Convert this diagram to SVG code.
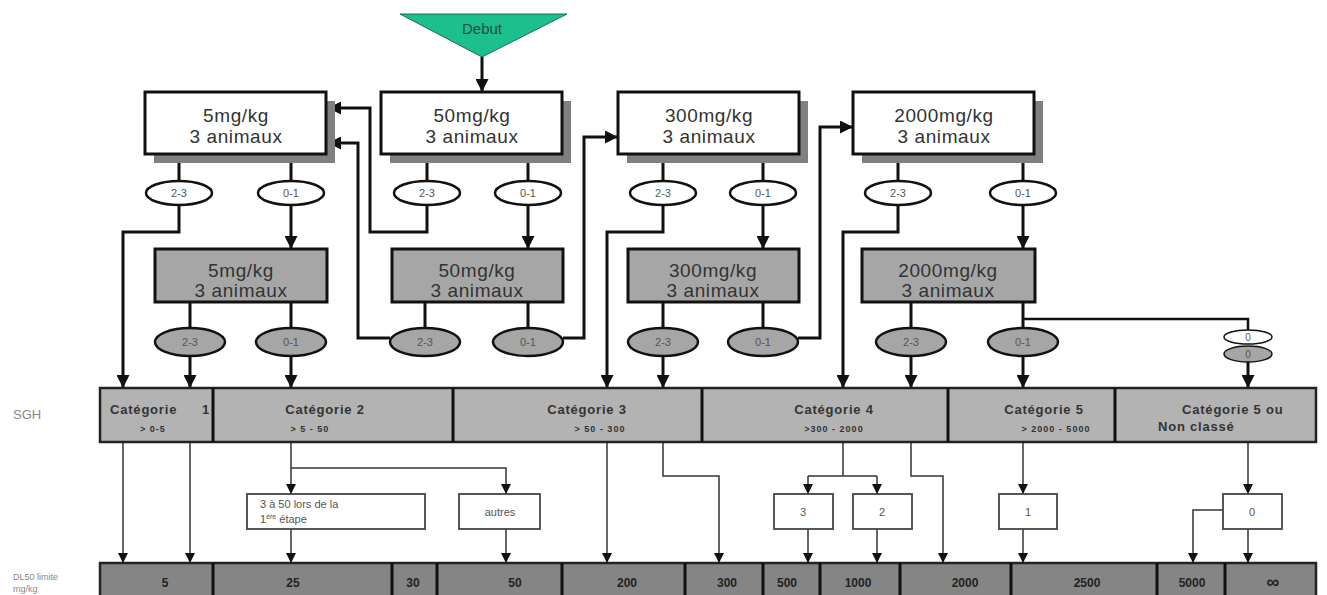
<svg xmlns="http://www.w3.org/2000/svg" width="1327" height="595" viewBox="0 0 1327 595">
<style>
.bg{fill:#ffffff}
.wbox{fill:#ffffff;stroke:#111;stroke-width:3}
.shadow{fill:#808080}
.gbox{fill:#a6a6a6;stroke:#111;stroke-width:3}
.wov{fill:#ffffff;stroke:#111;stroke-width:2.5}
.gov{fill:#a6a6a6;stroke:#111;stroke-width:2.5}
.big{font-family:"Liberation Sans",Arial,sans-serif;font-size:19px;fill:#333;text-anchor:middle;letter-spacing:0.6px}
.ov{font-family:"Liberation Sans",Arial,sans-serif;font-size:11px;fill:#555;text-anchor:middle}
.c{fill:none;stroke:#111;stroke-width:3}
.t{fill:none;stroke:#333;stroke-width:1.5}
.row{stroke:#222;stroke-width:2.5}
.div{stroke:#111;stroke-width:3}
.cat{font-family:"Liberation Sans",Arial,sans-serif;font-size:13px;font-weight:bold;fill:#333;letter-spacing:0.8px}
.sub{font-family:"Liberation Sans",Arial,sans-serif;font-size:9px;font-weight:bold;fill:#333;letter-spacing:1px}
.mbox{fill:#ffffff;stroke:#444;stroke-width:1.8}
.mt{font-family:"Liberation Sans",Arial,sans-serif;font-size:11px;fill:#555}
.val{font-family:"Liberation Sans",Arial,sans-serif;font-size:12px;font-weight:bold;fill:#222;text-anchor:middle}
.side{font-family:"Liberation Sans",Arial,sans-serif;fill:#888}
</style>
<defs>
<marker id="ah" viewBox="0 0 10 10" refX="10" refY="5" markerWidth="13" markerHeight="13" markerUnits="userSpaceOnUse" orient="auto"><path d="M0,0 L10,5 L0,10 z" fill="#111"/></marker>
<marker id="as" viewBox="0 0 10 10" refX="10" refY="5" markerWidth="10" markerHeight="10" markerUnits="userSpaceOnUse" orient="auto"><path d="M0,0 L10,5 L0,10 z" fill="#111"/></marker>
</defs>
<rect class="bg" x="0" y="0" width="1327" height="595"/>

<g id="debut">
<polygon points="400,14 567,14 482,57" fill="#1dbf8c" stroke="#1a6a55" stroke-width="1"/>
<text x="482" y="34" font-family="Liberation Sans, Arial, sans-serif" font-size="15" fill="#1d4f44" text-anchor="middle">Debut</text>
</g>

<g id="connectors">
<path class="c" d="M482,57 V92" marker-end="url(#ah)"/>
<path class="c" d="M179,154 V181 M291,154 V181 M427,154 V181 M528,154 V181 M663,154 V181 M763,154 V181 M898,154 V181 M1023,154 V181"/>
<path class="c" d="M291,206 V249" marker-end="url(#ah)"/>
<path class="c" d="M528,206 V249" marker-end="url(#ah)"/>
<path class="c" d="M763,206 V249" marker-end="url(#ah)"/>
<path class="c" d="M1023,206 V249" marker-end="url(#ah)"/>
<path class="c" d="M179,206 V232 H123 V388" marker-end="url(#ah)"/>
<path class="c" d="M427,206 V232 H370 V108 H328" marker-end="url(#ah)"/>
<path class="c" d="M663,206 V232 H607 V388" marker-end="url(#ah)"/>
<path class="c" d="M898,206 V232 H843 V388" marker-end="url(#ah)"/>
<path class="c" d="M190,302 V328 M291,302 V328 M425,302 V328 M528,302 V328 M663,302 V328 M763,302 V328 M911,302 V328 M1023,302 V328"/>
<path class="c" d="M190,356 V388" marker-end="url(#ah)"/>
<path class="c" d="M291,356 V388" marker-end="url(#ah)"/>
<path class="c" d="M390,338 H358 V143 H328" marker-end="url(#ah)"/>
<path class="c" d="M563,338 H584 V137 H618" marker-end="url(#ah)"/>
<path class="c" d="M663,356 V388" marker-end="url(#ah)"/>
<path class="c" d="M798,338 H820 V127 H853" marker-end="url(#ah)"/>
<path class="c" d="M911,356 V388" marker-end="url(#ah)"/>
<path class="c" d="M1023,356 V388" marker-end="url(#ah)"/>
<path class="c" d="M1023,319 H1248 V330" style="stroke-width:2.5"/>
<path class="c" d="M1248,362 V388" marker-end="url(#ah)"/>

<path class="t" d="M123,442 V563" marker-end="url(#as)"/>
<path class="t" d="M190,442 V563" marker-end="url(#as)"/>
<path class="t" d="M291,442 V494" marker-end="url(#as)"/>
<path class="t" d="M291,468 H506 V494" marker-end="url(#as)"/>
<path class="t" d="M291,529 V563" marker-end="url(#as)"/>
<path class="t" d="M506,529 V563" marker-end="url(#as)"/>
<path class="t" d="M607,442 V563" marker-end="url(#as)"/>
<path class="t" d="M663,442 V476 H719 V563" marker-end="url(#as)"/>
<path class="t" d="M843,442 V476 M808,476 H877"/>
<path class="t" d="M808,476 V494" marker-end="url(#as)"/>
<path class="t" d="M877,476 V494" marker-end="url(#as)"/>
<path class="t" d="M808,529 V563" marker-end="url(#as)"/>
<path class="t" d="M877,529 V563" marker-end="url(#as)"/>
<path class="t" d="M911,442 V476 H943 V563" marker-end="url(#as)"/>
<path class="t" d="M1023,442 V494" marker-end="url(#as)"/>
<path class="t" d="M1023,529 V563" marker-end="url(#as)"/>
<path class="t" d="M1248,442 V494" marker-end="url(#as)"/>
<path class="t" d="M1248,529 V563" marker-end="url(#as)"/>
<path class="t" d="M1223,510 H1193 V563" marker-end="url(#as)"/>
</g>

<g id="box-5-top">
<rect class="shadow" x="154" y="101" width="181" height="62"/>
<rect class="wbox" x="145" y="92" width="181" height="62"/>
<text class="big" x="236" y="122">5mg/kg</text>
<text class="big" x="236" y="143">3 animaux</text>
</g>
<g id="box-50-top">
<rect class="shadow" x="390" y="101" width="181" height="62"/>
<rect class="wbox" x="381" y="92" width="181" height="62"/>
<text class="big" x="472" y="122">50mg/kg</text>
<text class="big" x="472" y="143">3 animaux</text>
</g>
<g id="box-300-top">
<rect class="shadow" x="627" y="101" width="181" height="62"/>
<rect class="wbox" x="618" y="92" width="181" height="62"/>
<text class="big" x="709" y="122">300mg/kg</text>
<text class="big" x="709" y="143">3 animaux</text>
</g>
<g id="box-2000-top">
<rect class="shadow" x="862" y="101" width="181" height="62"/>
<rect class="wbox" x="853" y="92" width="181" height="62"/>
<text class="big" x="944" y="122">2000mg/kg</text>
<text class="big" x="944" y="143">3 animaux</text>
</g>

<g id="ov-top-5-23"><ellipse class="wov" cx="179" cy="193" rx="33" ry="12"/><text class="ov" x="179" y="197">2-3</text></g>
<g id="ov-top-5-01"><ellipse class="wov" cx="291" cy="193" rx="33" ry="12"/><text class="ov" x="291" y="197">0-1</text></g>
<g id="ov-top-50-23"><ellipse class="wov" cx="427" cy="193" rx="33" ry="12"/><text class="ov" x="427" y="197">2-3</text></g>
<g id="ov-top-50-01"><ellipse class="wov" cx="528" cy="193" rx="33" ry="12"/><text class="ov" x="528" y="197">0-1</text></g>
<g id="ov-top-300-23"><ellipse class="wov" cx="663" cy="193" rx="33" ry="12"/><text class="ov" x="663" y="197">2-3</text></g>
<g id="ov-top-300-01"><ellipse class="wov" cx="763" cy="193" rx="33" ry="12"/><text class="ov" x="763" y="197">0-1</text></g>
<g id="ov-top-2000-23"><ellipse class="wov" cx="898" cy="193" rx="33" ry="12"/><text class="ov" x="898" y="197">2-3</text></g>
<g id="ov-top-2000-01"><ellipse class="wov" cx="1023" cy="193" rx="33" ry="12"/><text class="ov" x="1023" y="197">0-1</text></g>

<g id="box-5-bot">
<rect class="gbox" x="155" y="249" width="172" height="53"/>
<text class="big" x="241" y="277">5mg/kg</text>
<text class="big" x="241" y="297">3 animaux</text>
</g>
<g id="box-50-bot">
<rect class="gbox" x="392" y="249" width="171" height="53"/>
<text class="big" x="477" y="277">50mg/kg</text>
<text class="big" x="477" y="297">3 animaux</text>
</g>
<g id="box-300-bot">
<rect class="gbox" x="628" y="249" width="171" height="53"/>
<text class="big" x="713" y="277">300mg/kg</text>
<text class="big" x="713" y="297">3 animaux</text>
</g>
<g id="box-2000-bot">
<rect class="gbox" x="862" y="249" width="173" height="53"/>
<text class="big" x="948" y="277">2000mg/kg</text>
<text class="big" x="948" y="297">3 animaux</text>
</g>

<g id="ov-bot-5-23"><ellipse class="gov" cx="190" cy="342" rx="35" ry="14"/><text class="ov" x="190" y="346">2-3</text></g>
<g id="ov-bot-5-01"><ellipse class="gov" cx="291" cy="342" rx="35" ry="14"/><text class="ov" x="291" y="346">0-1</text></g>
<g id="ov-bot-50-23"><ellipse class="gov" cx="425" cy="342" rx="35" ry="14"/><text class="ov" x="425" y="346">2-3</text></g>
<g id="ov-bot-50-01"><ellipse class="gov" cx="528" cy="342" rx="35" ry="14"/><text class="ov" x="528" y="346">0-1</text></g>
<g id="ov-bot-300-23"><ellipse class="gov" cx="663" cy="342" rx="35" ry="14"/><text class="ov" x="663" y="346">2-3</text></g>
<g id="ov-bot-300-01"><ellipse class="gov" cx="763" cy="342" rx="35" ry="14"/><text class="ov" x="763" y="346">0-1</text></g>
<g id="ov-bot-2000-23"><ellipse class="gov" cx="911" cy="342" rx="35" ry="14"/><text class="ov" x="911" y="346">2-3</text></g>
<g id="ov-bot-2000-01"><ellipse class="gov" cx="1023" cy="342" rx="35" ry="14"/><text class="ov" x="1023" y="346">0-1</text></g>
<g id="ov-zero-w"><ellipse class="wov" cx="1248" cy="337" rx="24" ry="7" style="stroke-width:1.5"/><text class="ov" x="1248" y="341" style="font-size:10px">0</text></g>
<g id="ov-zero-g"><ellipse class="gov" cx="1248" cy="354" rx="24" ry="8" style="stroke-width:1.5"/><text class="ov" x="1248" y="358" style="font-size:10px">0</text></g>

<g id="sgh">
<text class="side" x="13" y="419" font-size="13">SGH</text>
<rect class="row" x="100" y="388" width="1216" height="54" fill="#b3b3b3"/>
<path class="div" d="M213,388 V442 M453,388 V442 M702,388 V442 M948,388 V442 M1115,388 V442"/>
<text class="cat" x="110" y="414">Catégorie</text><text class="cat" x="202" y="414">1</text>
<text class="sub" x="153" y="432" text-anchor="middle">&gt; 0-5</text>
<text class="cat" x="325" y="414" text-anchor="middle">Catégorie 2</text>
<text class="sub" x="310" y="432" text-anchor="middle">&gt; 5 - 50</text>
<text class="cat" x="587" y="414" text-anchor="middle">Catégorie 3</text>
<text class="sub" x="600" y="432" text-anchor="middle">&gt;  50 - 300</text>
<text class="cat" x="834" y="414" text-anchor="middle">Catégorie 4</text>
<text class="sub" x="834" y="432" text-anchor="middle">&gt;300 - 2000</text>
<text class="cat" x="1044" y="414" text-anchor="middle">Catégorie 5</text>
<text class="sub" x="1056" y="432" text-anchor="middle">&gt; 2000 - 5000</text>
<text class="cat" x="1182" y="414">Catégorie 5 ou</text>
<text class="cat" x="1158" y="431">Non classé</text>
</g>

<g id="m-3a50"><rect class="mbox" x="247" y="494" width="178" height="35"/>
<text class="mt" x="260" y="508">3 à 50 lors de la</text>
<text class="mt" x="260" y="523">1<tspan font-size="7" dy="-4">ère</tspan><tspan dy="4"> étape</tspan></text></g>
<g id="m-autres"><rect class="mbox" x="459" y="494" width="81" height="35"/><text class="mt" x="500" y="516" text-anchor="middle">autres</text></g>
<g id="m-3"><rect class="mbox" x="774" y="494" width="59" height="35"/><text class="mt" x="803" y="516" text-anchor="middle">3</text></g>
<g id="m-2"><rect class="mbox" x="853" y="494" width="59" height="35"/><text class="mt" x="882" y="516" text-anchor="middle">2</text></g>
<g id="m-1"><rect class="mbox" x="999" y="494" width="58" height="35"/><text class="mt" x="1028" y="516" text-anchor="middle">1</text></g>
<g id="m-0"><rect class="mbox" x="1223" y="494" width="59" height="35"/><text class="mt" x="1252" y="516" text-anchor="middle">0</text></g>

<g id="dl50">
<text class="side" x="13" y="580" font-size="9">DL50  limite</text>
<text class="side" x="13" y="592" font-size="9">mg/kg</text>
<rect class="row" x="100" y="563" width="1216" height="40" fill="#858585"/>
<path class="div" d="M213,563 V595 M392,563 V595 M437,563 V595 M562,563 V595 M685,563 V595 M763,563 V595 M820,563 V595 M900,563 V595 M1011,563 V595 M1157,563 V595 M1225,563 V595"/>
<text class="val" x="165" y="587">5</text>
<text class="val" x="293" y="587">25</text>
<text class="val" x="413" y="587">30</text>
<text class="val" x="515" y="587">50</text>
<text class="val" x="627" y="587">200</text>
<text class="val" x="727" y="587">300</text>
<text class="val" x="787" y="587">500</text>
<text class="val" x="858" y="587">1000</text>
<text class="val" x="965" y="587">2000</text>
<text class="val" x="1087" y="587">2500</text>
<text class="val" x="1192" y="587">5000</text>
<text class="val" x="1273" y="588" style="font-size:18px">∞</text>
</g>
</svg>
